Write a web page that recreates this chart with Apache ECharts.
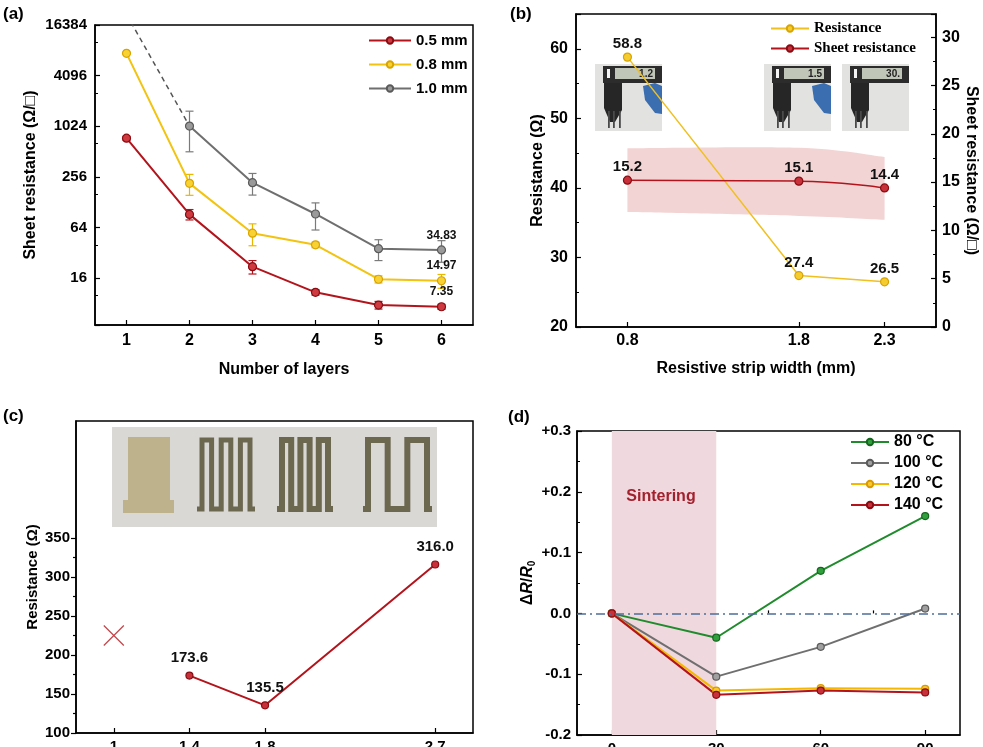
<!DOCTYPE html>
<html>
<head>
<meta charset="utf-8">
<script src="https://cdn.jsdelivr.net/npm/echarts@6/dist/echarts.min.js"></script>
<style>
html, body { margin: 0; padding: 0; background: #fff; }
#chart { width: 983px; height: 747px; }
</style>
</head>
<body>
<div id="chart"></div>
<script>
// (a) 层数 - 方阻
var layers = ['1', '2', '3', '4', '5', '6'];
var sheet05 = [740, 92, 22, 10.9, 7.7, 7.35];
var err05 = [40, 13, 4, 0.8, 0.8, 0.5];
var sheet08 = [7540, 215, 55, 40, 15.6, 14.97];
var err08 = [0, 60, 16, 3, 1.5, 2.8];
var sheet10 = [null, 1030, 219, 93, 36, 34.83];
var err10 = [0, 520, 63, 33, 10, 10];
var trend10 = [[0, 22000], [1, 1030]];     // 虚线外推

// (b) 线宽 - 电阻 / 方阻
var stripWidth = [0.8, 1.8, 2.3];
var resistB = [58.8, 27.4, 26.5];
var sheetB = [15.2, 15.1, 14.4];
var bandLow = [11.9, 11.5, 11.1];
var bandHigh = [18.5, 18.55, 17.6];

// (c) 线宽 - 电阻
var widthC = [1.4, 1.8, 2.7];
var resistC = [173.6, 135.5, 316.0];
var failC = [[1, 225]];
var ticksC = [1, 1.4, 1.8, 2.7];
var labelsC = [100, 150, 200, 250, 300, 350];
var minorC = [125, 175, 225, 275, 325];

// (d) 时间 - ΔR/R0
var timeD = [0, 30, 60, 90];
var minorD = [15, 45, 75];
var d80 = [0, -0.04, 0.07, 0.16];
var d100 = [0, -0.104, -0.055, 0.008];
var d120 = [0, -0.127, -0.123, -0.124];
var d140 = [0, -0.134, -0.127, -0.130];
var sinterRange = [0, 30];

var FONT = 'Liberation Sans, Arial, sans-serif';
var RED = '#b3141c', YEL = '#f2c30f', GRAY = '#6f6f6f', GREEN = '#1f8b2c', ORANGE = '#f5b800';

function pairs(xs, ys) {
    return xs.map(function (x, i) { return [x, ys[i]]; });
}

function txt(size, bold) {
    return { color: '#000', fontSize: size, fontWeight: bold ? 'bold' : 'normal', fontFamily: FONT };
}

function axisBase(extra) {
    var a = {
        axisLine: { show: true, onZero: false, lineStyle: { color: '#000', width: 1.5 } },
        axisTick: { show: true, inside: true, length: 5, lineStyle: { color: '#000', width: 1.2 } },
        axisLabel: txt(15, true),
        splitLine: { show: false },
        nameLocation: 'middle',
        nameTextStyle: txt(16, true)
    };
    for (var k in extra) {
        if (typeof extra[k] === 'object' && a[k] && !Array.isArray(extra[k])) {
            a[k] = Object.assign({}, a[k], extra[k]);
        } else {
            a[k] = extra[k];
        }
    }
    return a;
}

// 只画刻度的辅助轴（次刻度）
function minorAxis(gi, min, max, vals, pos, inside) {
    return {
        gridIndex: gi, type: 'value', min: min, max: max, position: pos,
        axisLine: { show: false },
        axisTick: { show: true, inside: inside, length: 3, customValues: vals, lineStyle: { color: '#000', width: 1.2 } },
        axisLabel: { show: false },
        splitLine: { show: false }
    };
}

function lineSeries(name, data, color, fill, border, xi, yi, extra) {
    var s = {
        name: name, type: 'line', xAxisIndex: xi, yAxisIndex: yi,
        data: data, symbol: 'circle', symbolSize: 8,
        lineStyle: { color: color, width: 2 },
        itemStyle: { color: fill, borderColor: border, borderWidth: 1.2 },
        emphasis: { disabled: true },
        z: 3
    };
    return Object.assign(s, extra || {});
}

// 误差棒
function errSeries(vals, errs, color) {
    var d = [];
    vals.forEach(function (v, i) {
        if (v != null && errs[i]) d.push([i, v - errs[i], v + errs[i]]);
    });
    return {
        type: 'custom', xAxisIndex: 0, yAxisIndex: 0, z: 2,
        encode: { x: 0, y: [1, 2] },
        data: d,
        renderItem: function (params, api) {
            var lo = api.coord([api.value(0), api.value(1)]);
            var hi = api.coord([api.value(0), api.value(2)]);
            var w = 4, st = { stroke: color, lineWidth: 1.2 };
            return {
                type: 'group', children: [
                    { type: 'line', shape: { x1: lo[0], y1: lo[1], x2: hi[0], y2: hi[1] }, style: st },
                    { type: 'line', shape: { x1: lo[0] - w, y1: lo[1], x2: lo[0] + w, y2: lo[1] }, style: st },
                    { type: 'line', shape: { x1: hi[0] - w, y1: hi[1], x2: hi[0] + w, y2: hi[1] }, style: st }
                ]
            };
        }
    };
}

// 平滑曲线段（Catmull-Rom 转贝塞尔）
function smoothPath(pts) {
    var s = '';
    for (var i = 0; i < pts.length - 1; i++) {
        var p0 = pts[Math.max(i - 1, 0)], p1 = pts[i], p2 = pts[i + 1], p3 = pts[Math.min(i + 2, pts.length - 1)];
        var c1 = [p1[0] + (p2[0] - p0[0]) / 6, p1[1] + (p2[1] - p0[1]) / 6];
        var c2 = [p2[0] - (p3[0] - p1[0]) / 6, p2[1] - (p3[1] - p1[1]) / 6];
        s += ' C' + c1[0] + ',' + c1[1] + ' ' + c2[0] + ',' + c2[1] + ' ' + p2[0] + ',' + p2[1];
    }
    return s;
}

// 方阻误差带
function bandSeries() {
    return {
        type: 'custom', xAxisIndex: 1, yAxisIndex: 2, z: 1, silent: true,
        encode: { x: 0, y: [1, 2] },
        data: stripWidth.map(function (x, i) { return [x, bandLow[i], bandHigh[i]]; }),
        renderItem: function (params, api) {
            if (params.dataIndex !== 0) return null;
            var top = stripWidth.map(function (x, i) { return api.coord([x, bandHigh[i]]); });
            var bot = stripWidth.map(function (x, i) { return api.coord([x, bandLow[i]]); }).reverse();
            var d = 'M' + top[0][0] + ',' + top[0][1] + smoothPath(top) +
                ' L' + bot[0][0] + ',' + bot[0][1] + smoothPath(bot) + ' Z';
            return { type: 'path', shape: { pathData: d }, style: { fill: '#f3d4d4' } };
        }
    };
}

function lastLabel(arr) {
    return arr.map(function (v, i) {
        if (i !== arr.length - 1) return v;
        return { value: v, label: { show: true, position: 'top', distance: 4, formatter: String(v), color: '#111', fontSize: 12, fontWeight: 'bold', fontFamily: FONT } };
    });
}

// 卡尺照片（示意）
function caliperPhoto(x, y, reading, glove) {
    var kids = [
        { type: 'rect', shape: { x: 0, y: 0, width: 67, height: 67 }, style: { fill: '#e2e3e0' } },
        { type: 'polygon', shape: { points: [[9, 14], [27, 14], [27, 46], [20, 58], [15, 58], [9, 44]] }, style: { fill: '#262626' } },
        { type: 'rect', shape: { x: 8, y: 2, width: 59, height: 17 }, style: { fill: '#2c2c2c' } },
        { type: 'rect', shape: { x: 20, y: 4, width: 40, height: 11 }, style: { fill: '#c0c6b8' } },
        { type: 'rect', shape: { x: 12, y: 5, width: 3, height: 9 }, style: { fill: '#f4f4f4' } },
        { type: 'text', style: { text: reading, x: 58, y: 10, align: 'right', verticalAlign: 'middle', font: 'bold 10px ' + FONT, fill: '#222' } },
        { type: 'rect', shape: { x: 13, y: 47, width: 1.8, height: 17 }, style: { fill: '#4a4a4a' } },
        { type: 'rect', shape: { x: 18, y: 47, width: 1.8, height: 17 }, style: { fill: '#4a4a4a' } },
        { type: 'rect', shape: { x: 24, y: 47, width: 1.8, height: 17 }, style: { fill: '#4a4a4a' } }
    ];
    if (glove) {
        kids.push({ type: 'polygon', shape: { points: [[48, 22], [60, 19], [67, 22], [67, 50], [60, 49], [50, 36]] }, style: { fill: '#3b6eb0' } });
    }
    return { type: 'group', x: x, y: y, z: 100, children: kids };
}

// 织物上的印刷图案（示意）
function meander(x0, x1, legs, top, bottom, lw) {
    var pts = [[x0, bottom]];
    var step = (x1 - x0 - 10) / (legs - 1);
    for (var i = 0; i < legs; i++) {
        var lx = x0 + 5 + i * step;
        if (i % 2 === 0) { pts.push([lx, bottom]); pts.push([lx, top]); }
        else { pts.push([lx, top]); pts.push([lx, bottom]); }
    }
    pts.push([x1, bottom]);
    return { type: 'polyline', z: 101, shape: { points: pts }, style: { stroke: '#6c6850', lineWidth: lw, fill: null, lineJoin: 'miter' } };
}

var graphics = [
    { type: 'text', style: { text: '(a)', x: 3, y: 6, font: 'bold 17px ' + FONT, fill: '#000' } },
    { type: 'text', style: { text: '(b)', x: 510, y: 6, font: 'bold 17px ' + FONT, fill: '#000' } },
    { type: 'text', style: { text: '(c)', x: 3, y: 408, font: 'bold 17px ' + FONT, fill: '#000' } },
    { type: 'text', style: { text: '(d)', x: 508, y: 409, font: 'bold 17px ' + FONT, fill: '#000' } },
    caliperPhoto(595, 64, '1.2', true),
    caliperPhoto(764, 64, '1.5', true),
    caliperPhoto(842, 64, '30.', false),
    { type: 'rect', shape: { x: 112, y: 427, width: 325, height: 100 }, style: { fill: '#d9d8d5' }, z: 100 },
    { type: 'rect', shape: { x: 128, y: 437, width: 42, height: 70 }, style: { fill: '#bdb28c' }, z: 101 },
    { type: 'rect', shape: { x: 123, y: 500, width: 51, height: 13 }, style: { fill: '#bdb28c' }, z: 101 },
    meander(197, 255, 6, 440, 509, 5),
    meander(277, 333, 6, 440, 509, 6),
    meander(363, 432, 4, 440, 509, 6),
    { type: 'text', style: { text: 'Sintering', x: 661, y: 497, align: 'center', verticalAlign: 'middle', font: 'bold 16px ' + FONT, fill: '#a3202d' }, z: 50 }
];

var chart = echarts.init(document.getElementById('chart'), null, { renderer: 'canvas' });

var gridBase = { show: true, borderColor: '#000', borderWidth: 1.5, outerBoundsMode: 'none', containLabel: false };

var option = {
    animation: false,
    backgroundColor: '#fff',
    textStyle: { fontFamily: FONT },
    grid: [
        Object.assign({ left: 95, top: 25, width: 378, height: 300 }, gridBase),
        Object.assign({ left: 576, top: 14, width: 360, height: 313 }, gridBase),
        Object.assign({ left: 76, top: 421, width: 397, height: 312 }, gridBase),
        Object.assign({ left: 577, top: 431, width: 383, height: 304 }, gridBase)
    ],
    legend: [
        {
            left: 363, top: 28, orient: 'vertical', itemWidth: 42, itemHeight: 8, itemGap: 9,
            textStyle: txt(15, true), data: ['0.5 mm', '0.8 mm', '1.0 mm'], selectedMode: false
        },
        {
            left: 765, top: 16, orient: 'vertical', itemWidth: 38, itemHeight: 8, itemGap: 5,
            textStyle: { color: '#000', fontSize: 15, fontWeight: 'bold', fontFamily: 'Liberation Serif, Times New Roman, serif' },
            data: ['Resistance', 'Sheet resistance'], selectedMode: false
        },
        {
            left: 845, top: 429, orient: 'vertical', itemWidth: 38, itemHeight: 8, itemGap: 5,
            textStyle: txt(16, true), data: ['80 °C', '100 °C', '120 °C', '140 °C'], selectedMode: false
        }
    ],
    xAxis: [
        axisBase({
            gridIndex: 0, type: 'category', data: layers, boundaryGap: true,
            axisTick: { alignWithLabel: true },
            axisLabel: Object.assign(txt(16, true), { margin: 8 }),
            name: 'Number of layers', nameGap: 37
        }),
        axisBase({
            gridIndex: 1, type: 'value', min: 0.5, max: 2.6,
            axisTick: { customValues: stripWidth },
            axisLabel: Object.assign(txt(16, true), { customValues: stripWidth, margin: 6 }),
            name: 'Resistive strip width (mm)', nameGap: 34
        }),
        axisBase({
            gridIndex: 2, type: 'value', min: 0.8, max: 2.9,
            axisTick: { customValues: ticksC },
            axisLabel: Object.assign(txt(15, true), { customValues: ticksC, margin: 6 })
        }),
        axisBase({
            gridIndex: 3, type: 'value', min: -10, max: 100,
            axisTick: { customValues: timeD },
            axisLabel: Object.assign(txt(15, true), { customValues: timeD, margin: 6 })
        }),
        minorAxis(3, -10, 100, minorD, 'bottom', true)
    ],
    yAxis: [
        axisBase({
            gridIndex: 0, type: 'log', logBase: 4, min: 4.46, max: 16384,
            minorTick: { show: true, splitNumber: 2, length: 3, lineStyle: { color: '#000' } },
            axisLabel: Object.assign(txt(15, true), {
                margin: 8, showMinLabel: false,
                formatter: function (v) { return String(Math.round(v)); }
            }),
            name: 'Sheet resistance (Ω/□)', nameGap: 56
        }),
        axisBase({
            gridIndex: 1, type: 'value', min: 20, max: 65, interval: 10,
            minorTick: { show: true, splitNumber: 2, length: 3, lineStyle: { color: '#000' } },
            axisLabel: Object.assign(txt(16, true), { margin: 8, showMaxLabel: false }),
            name: 'Resistance (Ω)', nameGap: 30
        }),
        axisBase({
            gridIndex: 1, type: 'value', position: 'right', min: 0, max: 32.4, interval: 5,
            minorTick: { show: true, splitNumber: 2, length: 3, lineStyle: { color: '#000' } },
            axisLabel: Object.assign(txt(16, true), { margin: 6, showMaxLabel: false }),
            name: 'Sheet resistance (Ω/□)', nameGap: 27, nameRotate: -90
        }),
        axisBase({
            gridIndex: 2, type: 'value', min: 100, max: 500,
            axisTick: { inside: false, customValues: labelsC },
            axisLabel: Object.assign(txt(15, true), { customValues: labelsC, margin: 6 }),
            name: 'Resistance (Ω)', nameGap: 36, nameTextStyle: txt(15, true)
        }),
        axisBase({
            gridIndex: 3, type: 'value', min: -0.2, max: 0.3, interval: 0.1,
            minorTick: { show: true, splitNumber: 2, length: 3, lineStyle: { color: '#000' } },
            axisLabel: Object.assign(txt(15, true), {
                margin: 6,
                formatter: function (v) {
                    if (Math.abs(v) < 1e-6) return '0.0';
                    return (v > 0 ? '+' : '') + v.toFixed(1);
                }
            }),
            name: '{t|Δ}{i|R}{t|/}{i|R}{s|0}', nameGap: 40,
            nameTextStyle: {
                rich: {
                    t: txt(16, true),
                    i: Object.assign(txt(16, true), { fontStyle: 'italic' }),
                    s: Object.assign(txt(10, true), { verticalAlign: 'bottom', padding: [8, 0, 0, 0] })
                }
            }
        }),
        minorAxis(2, 100, 500, minorC, 'left', false)
    ],
    graphic: graphics,
    series: [
        // (a)
        {
            type: 'line', xAxisIndex: 0, yAxisIndex: 0, data: trend10, symbol: 'none', clip: true,
            lineStyle: { color: '#555', width: 1.5, type: [5, 4] }, z: 1, silent: true
        },
        errSeries(sheet10, err10, '#7a7a7a'),
        errSeries(sheet08, err08, '#e8b800'),
        errSeries(sheet05, err05, RED),
        lineSeries('1.0 mm', lastLabel(sheet10), GRAY, '#9a9a9a', '#5a5a5a', 0, 0),
        lineSeries('0.8 mm', lastLabel(sheet08), YEL, '#f7d232', '#d9a400', 0, 0),
        lineSeries('0.5 mm', lastLabel(sheet05), RED, '#cf3a40', '#8a0c12', 0, 0),

        // (b)
        bandSeries(),
        lineSeries('Resistance', pairs(stripWidth, resistB), '#f0c020', '#f5cc30', '#d9a400', 1, 1, {
            lineStyle: { color: '#f0c020', width: 1.5 }, symbolSize: 8,
            label: { show: true, position: 'top', distance: 1, color: '#111', fontSize: 15, fontWeight: 'bold', fontFamily: FONT }
        }),
        lineSeries('Sheet resistance', pairs(stripWidth, sheetB), RED, '#c8303a', '#8a0c12', 1, 2, {
            smooth: true, lineStyle: { color: RED, width: 1.5 }, symbolSize: 8,
            label: { show: true, position: 'top', distance: 1, color: '#111', fontSize: 15, fontWeight: 'bold', fontFamily: FONT }
        }),

        // (c)
        lineSeries('c', pairs(widthC, resistC), RED, '#c8303a', '#8a0c12', 2, 3, {
            symbolSize: 7,
            label: {
                show: true, position: 'top', distance: 6, color: '#111', fontSize: 15, fontWeight: 'bold', fontFamily: FONT,
                formatter: function (p) { return p.value[1].toFixed(1); }
            }
        }),
        {
            type: 'scatter', xAxisIndex: 2, yAxisIndex: 3, data: failC,
            symbol: 'path://M0,0L20,20M20,0L0,20', symbolSize: 20,
            itemStyle: { color: 'none', borderColor: RED, borderWidth: 1.2 }, silent: true
        },

        // (d)
        lineSeries('80 °C', pairs(timeD, d80), GREEN, '#2fa03c', '#16661f', 3, 4, {
            symbolSize: 7,
            markArea: {
                silent: true, itemStyle: { color: '#f0d8df' },
                data: [[{ xAxis: sinterRange[0] }, { xAxis: sinterRange[1] }]]
            },
            markLine: {
                silent: true, symbol: 'none', label: { show: false },
                lineStyle: { color: '#4d6d99', width: 1.5, type: [9, 4, 2, 4] },
                data: [{ yAxis: 0 }]
            }
        }),
        lineSeries('100 °C', pairs(timeD, d100), GRAY, '#a0a0a0', '#5a5a5a', 3, 4, { symbolSize: 7 }),
        lineSeries('120 °C', pairs(timeD, d120), ORANGE, '#f8c830', '#d99a00', 3, 4, { symbolSize: 7 }),
        lineSeries('140 °C', pairs(timeD, d140), RED, '#c8303a', '#8a0c12', 3, 4, { symbolSize: 7 })
    ]
};

chart.setOption(option);
</script>
</body>
</html>
